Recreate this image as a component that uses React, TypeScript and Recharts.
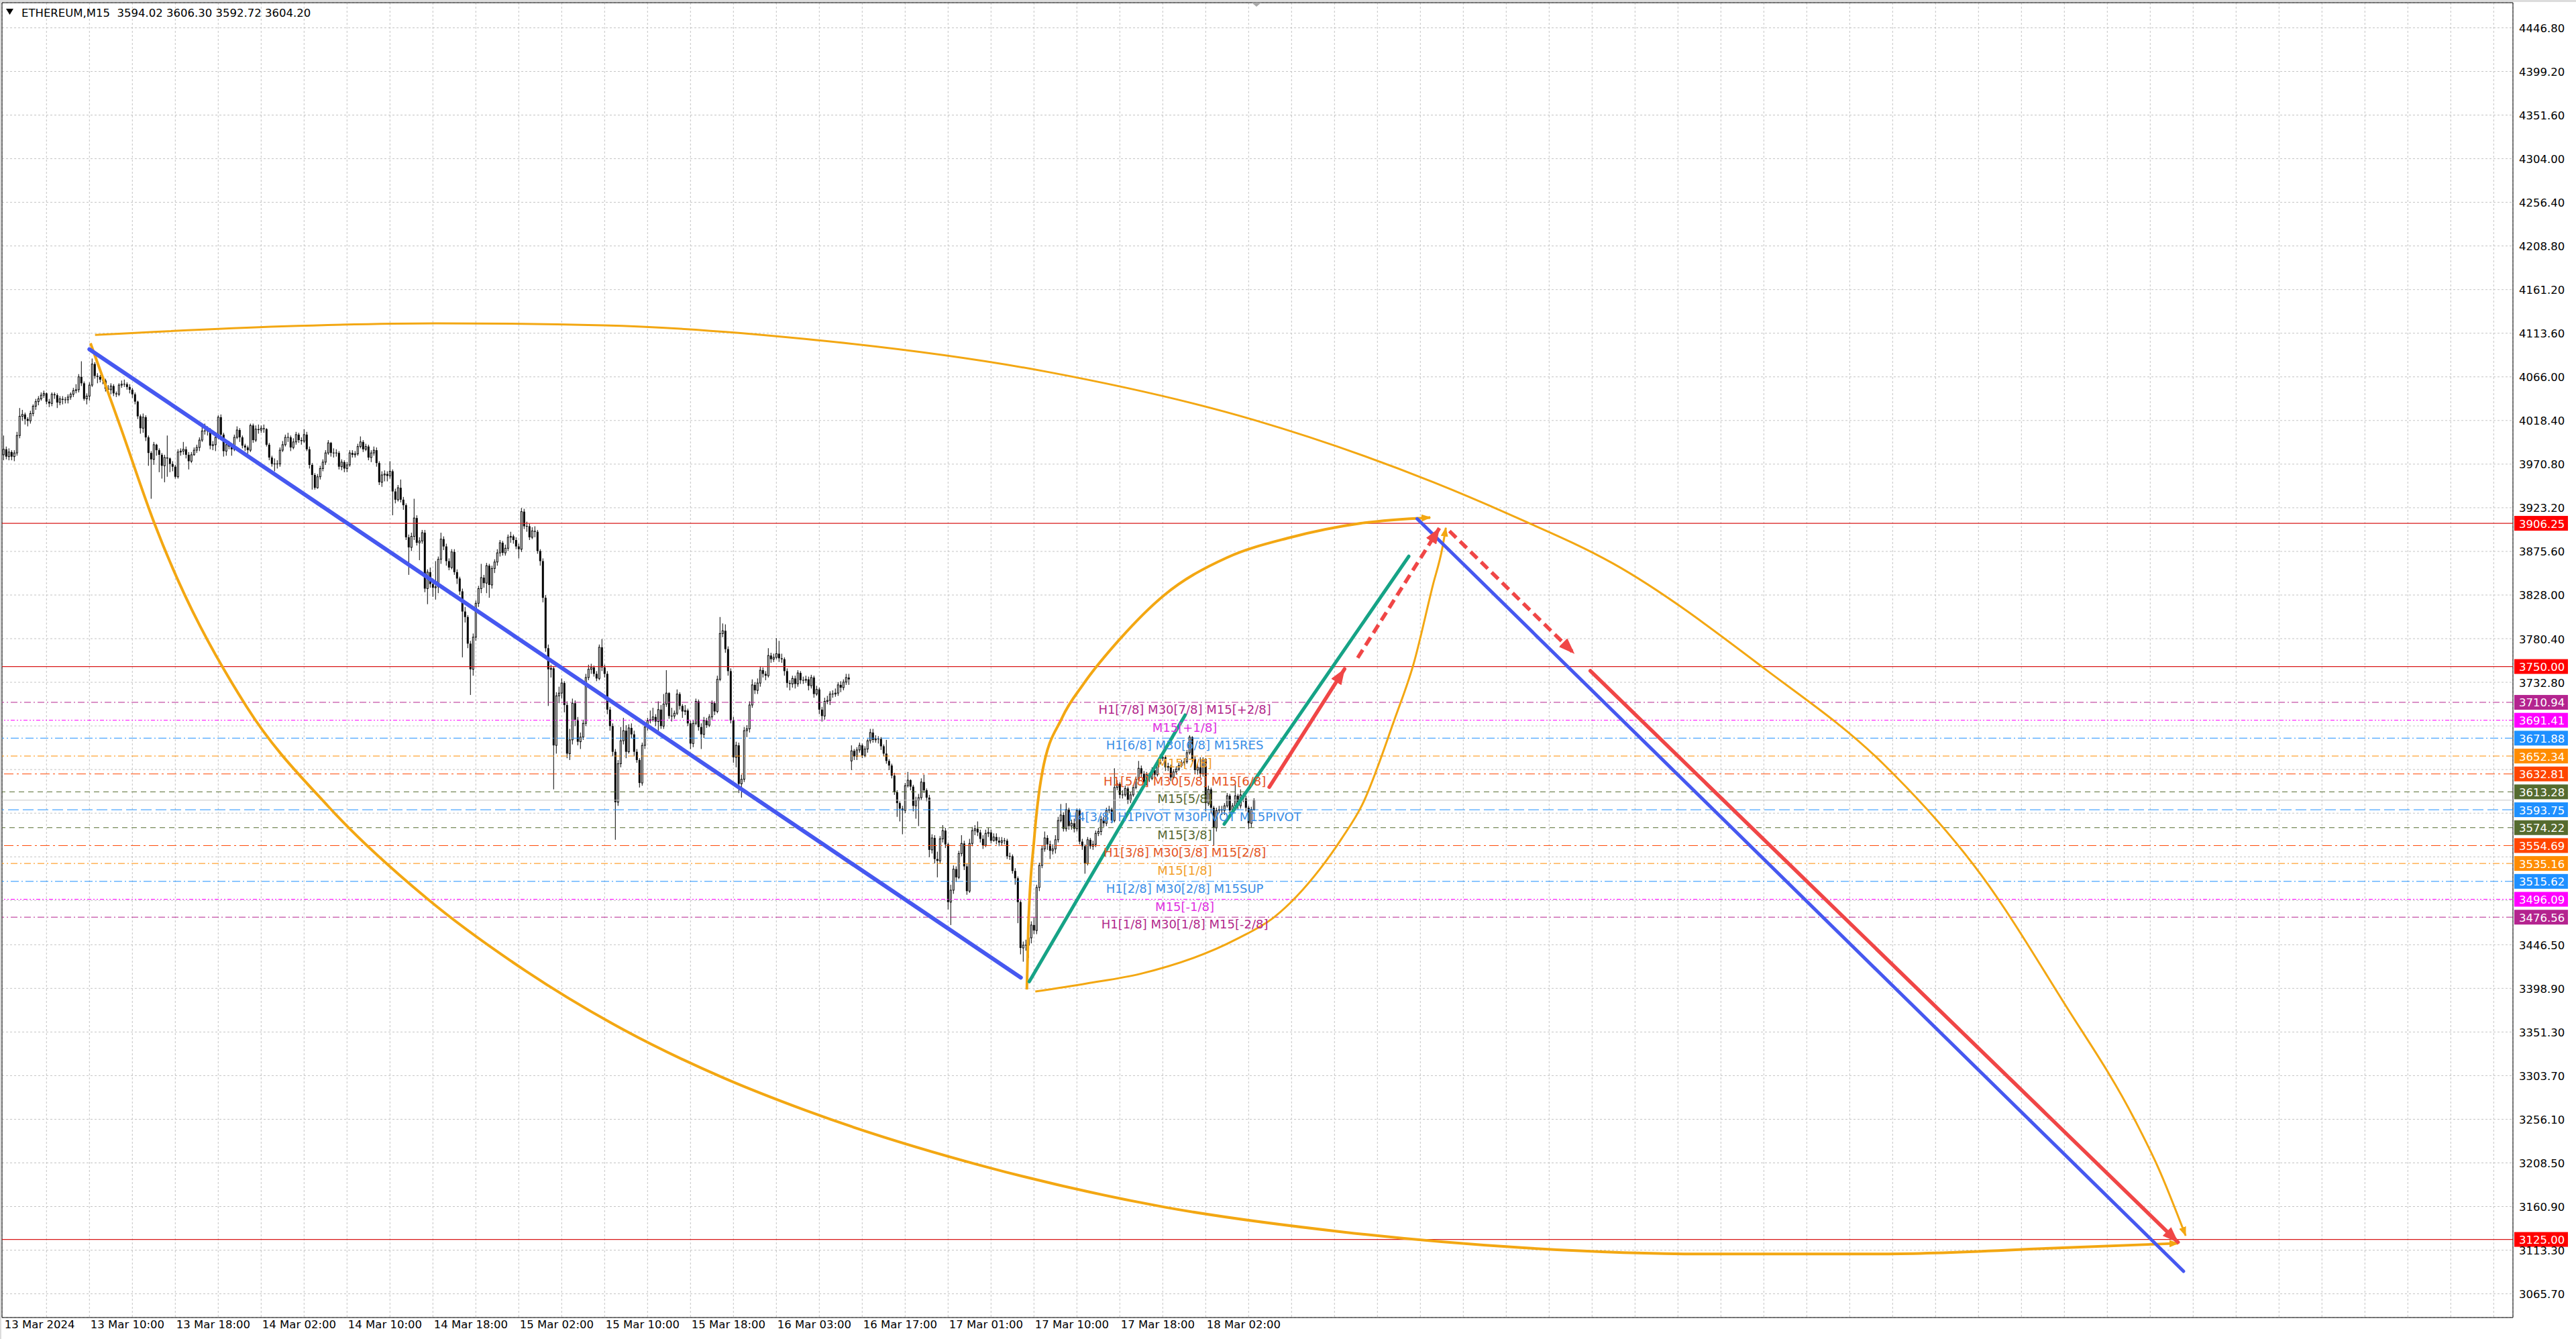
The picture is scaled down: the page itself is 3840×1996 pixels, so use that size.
import React from "react";
import {
  ComposedChart, Bar, Line, Scatter, XAxis, YAxis, CartesianGrid,
  ReferenceLine, ReferenceArea,
} from "recharts";

document.body.style.margin = "0";
document.body.style.overflow = "hidden";

const W = 3840;
const H = 1996;
const AXIS_FONT = '"DejaVu Sans", Verdana, sans-serif';

// x = M15 bar number counted from 13 Mar 02:00
const X_MIN = -0.575;
const X_MAX = 935.175;
const Y_MIN = 3039.8;
const Y_MAX = 4474.2;

const TIME_TICKS = [0, 32, 64, 96, 128, 160, 192, 224, 256, 288, 320, 352, 384, 416, 448];
const TIME_LABELS = [
  "13 Mar 2024", "13 Mar 10:00", "13 Mar 18:00", "14 Mar 02:00", "14 Mar 10:00",
  "14 Mar 18:00", "15 Mar 02:00", "15 Mar 10:00", "15 Mar 18:00", "16 Mar 03:00",
  "16 Mar 17:00", "17 Mar 01:00", "17 Mar 10:00", "17 Mar 18:00", "18 Mar 02:00",
];
const GRID_TICKS = Array.from({ length: 58 }, (_, k) => 16 * (k + 1));
const PRICE_TICKS = [
  4446.8, 4399.2, 4351.6, 4304.0, 4256.4, 4208.8, 4161.2, 4113.6, 4066.0, 4018.4,
  3970.8, 3923.2, 3875.6, 3828.0, 3780.4, 3732.8, 3685.2, 3637.6, 3590.0, 3542.4,
  3494.8, 3446.5, 3398.9, 3351.3, 3303.7, 3256.1, 3208.5, 3160.9, 3113.3, 3065.7,
];
// ticks whose labels sit under the price tags
const COVERED_TICKS = [3685.2, 3637.6, 3590.0, 3542.4, 3494.8];

const OPEN = [
  3981,3987,3979,3984,3979,3983,4002,4023,4025,4020, 4018,4026,4034,4039,4042,4046,4048,4039,4037,4047,
  4046,4038,4042,4041,4041,4044,4047,4051,4052,4066, 4059,4042,4045,4057,4080,4067,4066,4063,4062,4053,
  4052,4056,4048,4047,4057,4058,4058,4055,4052,4047, 4039,4023,4010,4022,4000,3983,3976,3992,3986,3981,
  3969,3978,3977,3971,3968,3957,3984,3985,3987,3981, 3974,3981,3986,3989,3997,4007,4007,4008,3991,3992,
  4000,4022,4003,3985,3992,3990,3987,4000,4008,4000, 3991,3989,3986,4013,3997,4009,4008,4010,4009,3992,
  3978,3971,3971,3971,3986,3992,4000,4000,3989,3995, 4003,3997,3996,4003,3987,3970,3959,3945,3957,3966,
  3973,3983,3994,3983,3983,3983,3968,3973,3966,3970, 3983,3981,3982,3990,3995,3987,3990,3978,3983,3986,
  3972,3951,3959,3960,3958,3963,3941,3932,3945,3932, 3926,3891,3880,3892,3912,3885,3887,3896,3835,3853,
  3840,3836,3837,3867,3889,3881,3865,3858,3875,3853, 3846,3832,3810,3804,3775,3747,3782,3819,3835,3847,
  3841,3860,3839,3857,3864,3874,3885,3874,3879,3891, 3892,3888,3881,3878,3919,3903,3903,3891,3898,3897,
  3876,3865,3825,3770,3747,3748,3664,3718,3721,3732, 3708,3655,3670,3710,3692,3668,3673,3688,3738,3747,
  3749,3742,3737,3771,3749,3742,3703,3685,3657,3602, 3644,3669,3680,3657,3683,3676,3657,3648,3623,3664,
  3684,3691,3692,3695,3690,3703,3685,3709,3721,3696, 3696,3699,3720,3707,3701,3702,3688,3666,3688,3712,
  3684,3676,3691,3686,3695,3710,3701,3736,3786,3789, 3769,3745,3691,3651,3664,3622,3627,3680,3682,3708,
  3730,3724,3732,3746,3742,3740,3762,3758,3760,3764, 3759,3758,3745,3732,3731,3737,3731,3743,3735,3735,
  3736,3729,3738,3720,3725,3703,3696,3712,3713,3720, 3720,3721,3730,3727,3733,3738,3647,3658,3652,3659,
  3664,3653,3660,3669,3678,3670,3671,3671,3663,3655, 3647,3642,3631,3613,3601,3595,3593,3620,3626,3619,
  3598,3604,3607,3624,3615,3607,3550,3563,3540,3538, 3562,3571,3556,3493,3506,3529,3520,3546,3557,3532,
  3505,3557,3571,3573,3569,3562,3555,3568,3569,3560, 3564,3560,3558,3560,3560,3543,3543,3527,3519,3493,
  3443,3446,3446,3454,3468,3462,3509,3533,3551,3563, 3556,3549,3551,3561,3582,3588,3573,3594,3576,3579,
  3573,3593,3559,3554,3535,3561,3554,3556,3568,3570, 3583,3579,3593,3594,3582,3618,3622,3610,3610,3617,
  3604,3610,3618,3627,3639,3633,3623,3632,3628,3637, 3632,3645,3650,3651,3640,3641,3629,3635,3638,3642,
  3645,3646,3656,3673,3649,3637,3640,3633,3649,3601, 3616,3596,3574,3593,3594,3593,3598,3609,3593,3598,
  3609,3598,3610,3606,3596,3579,3594.02,
];
const HIGH = [
  4002,3990,3988,3986,3986,4006,4032,4030,4027,4022, 4029,4036,4042,4045,4049,4051,4049,4042,4049,4049,
  4048,4045,4045,4044,4047,4049,4054,4058,4069,4083, 4061,4048,4060,4086,4082,4070,4068,4067,4064,4057,
  4059,4058,4050,4059,4062,4063,4060,4058,4054,4049, 4040,4025,4026,4024,4002,3985,3995,3993,3988,3983,
  3981,4002,3978,3974,3970,3987,3988,3995,3990,3984, 3984,3989,3992,4000,4011,4015,4012,4010,3996,4003,
  4024,4025,4005,3994,3996,3992,4003,4012,4010,4002, 3993,3991,4015,4015,4013,4014,4013,4014,4010,3994,
  3980,3977,3975,3989,3996,4003,4005,4002,3999,4006, 4005,4000,4009,4006,3990,3972,3961,3960,3969,3976,
  3986,3997,3995,3988,3987,3985,3976,3975,3973,3986, 3986,3985,3993,4001,3997,3993,3992,3986,3990,3989,
  3974,3963,3964,3963,3974,3965,3944,3948,3954,3935, 3928,3894,3896,3933,3915,3891,3899,3899,3856,3858,
  3846,3865,3870,3896,3892,3884,3868,3878,3878,3856, 3848,3835,3815,3806,3778,3786,3822,3838,3862,3850,
  3863,3862,3860,3867,3878,3888,3887,3883,3894,3897, 3894,3891,3884,3923,3922,3908,3906,3902,3903,3899,
  3878,3868,3828,3774,3752,3750,3722,3728,3737,3734, 3712,3682,3715,3713,3695,3678,3692,3742,3752,3753,
  3751,3745,3774,3780,3752,3745,3706,3688,3660,3648, 3684,3694,3686,3687,3688,3680,3660,3650,3667,3688,
  3694,3702,3705,3698,3712,3708,3720,3746,3722,3705, 3702,3725,3722,3709,3708,3704,3691,3692,3715,3714,
  3688,3695,3694,3698,3713,3712,3740,3804,3797,3796, 3772,3748,3695,3668,3667,3632,3684,3686,3712,3736,
  3733,3737,3750,3749,3745,3770,3765,3764,3781,3778, 3764,3760,3748,3735,3740,3740,3746,3745,3739,3740,
  3739,3741,3740,3729,3727,3706,3716,3718,3723,3724, 3726,3733,3734,3736,3742,3742,3664,3660,3662,3667,
  3666,3663,3671,3682,3682,3675,3674,3673,3665,3670, 3649,3644,3634,3615,3603,3598,3623,3635,3627,3621,
  3608,3611,3628,3632,3617,3610,3567,3566,3548,3565, 3577,3574,3558,3512,3533,3532,3549,3566,3560,3535,
  3562,3575,3577,3581,3572,3566,3572,3574,3572,3568, 3568,3564,3564,3563,3562,3547,3545,3530,3521,3495,
  3450,3452,3458,3472,3476,3512,3536,3555,3570,3566, 3560,3556,3566,3586,3600,3591,3601,3596,3583,3584,
  3595,3595,3562,3556,3564,3563,3560,3571,3574,3587, 3586,3596,3598,3596,3639,3626,3624,3615,3620,3619,
  3613,3621,3630,3647,3642,3636,3635,3634,3640,3639, 3648,3654,3655,3653,3645,3643,3638,3641,3645,3648,
  3650,3659,3675,3674,3652,3644,3651,3651,3650,3620, 3618,3598,3596,3598,3598,3601,3612,3611,3601,3622,
  3611,3616,3612,3609,3598,3597,3606.3,
];
const LOW = [
  3975,3976,3975,3975,3974,3980,3999,4018,4014,4012, 4015,4023,4030,4035,4040,4043,4036,4033,4034,4042,
  4032,4035,4036,4037,4037,4041,4044,4048,4049,4056, 4040,4036,4040,4055,4064,4059,4060,4058,4050,4048,
  4047,4045,4044,4045,4054,4055,4052,4048,4043,4036, 4020,4004,4005,3996,3969,3933,3970,3980,3962,3955,
  3951,3957,3962,3963,3955,3955,3980,3981,3977,3965, 3972,3980,3983,3985,3995,4003,4002,3987,3986,3985,
  3998,4000,3979,3980,3987,3980,3985,3998,3995,3988, 3985,3982,3984,3994,3995,4004,4005,4005,3990,3975,
  3968,3963,3966,3968,3984,3990,3995,3985,3987,3992, 3994,3992,3994,3985,3966,3943,3943,3944,3954,3963,
  3970,3981,3979,3978,3979,3965,3964,3962,3962,3968, 3978,3978,3980,3988,3984,3985,3975,3973,3980,3968,
  3948,3946,3952,3952,3955,3915,3928,3930,3929,3921, 3888,3850,3876,3888,3882,3866,3884,3831,3818,3836,
  3826,3823,3830,3862,3877,3860,3855,3856,3850,3840, 3828,3760,3798,3770,3719,3740,3778,3815,3830,3836,
  3830,3825,3835,3852,3860,3870,3871,3871,3876,3885, 3884,3878,3868,3875,3900,3897,3888,3889,3891,3873,
  3860,3820,3766,3707,3738,3616,3655,3710,3715,3700, 3650,3648,3665,3685,3664,3660,3670,3685,3735,3742,
  3739,3734,3735,3745,3738,3698,3680,3652,3561,3598, 3640,3665,3650,3655,3672,3652,3645,3618,3620,3660,
  3680,3688,3690,3685,3680,3682,3682,3706,3693,3690, 3693,3697,3703,3694,3697,3685,3660,3662,3686,3680,
  3660,3672,3683,3684,3692,3697,3699,3734,3782,3765, 3740,3688,3645,3640,3612,3607,3624,3673,3678,3705,
  3720,3720,3728,3738,3735,3738,3754,3755,3758,3755, 3754,3740,3727,3724,3727,3726,3728,3731,3731,3732,
  3724,3726,3716,3718,3698,3690,3692,3709,3708,3716, 3717,3718,3722,3724,3730,3730,3637,3648,3648,3656,
  3650,3651,3656,3666,3667,3667,3666,3659,3652,3644, 3637,3628,3610,3586,3581,3567,3590,3618,3615,3592,
  3584,3576,3604,3612,3603,3542,3546,3535,3520,3535, 3558,3552,3485,3468,3502,3515,3518,3543,3528,3501,
  3503,3554,3566,3565,3558,3551,3553,3564,3557,3559, 3556,3554,3555,3556,3540,3539,3524,3512,3470,3436,
  3428,3440,3432,3448,3458,3458,3505,3530,3548,3550, 3540,3545,3546,3558,3580,3570,3570,3572,3572,3569,
  3570,3556,3550,3524,3533,3551,3550,3553,3565,3566, 3575,3576,3590,3579,3580,3615,3606,3606,3608,3600,
  3601,3608,3616,3625,3629,3620,3620,3624,3626,3628, 3630,3643,3647,3636,3636,3625,3627,3632,3636,3640,
  3642,3644,3654,3646,3633,3632,3629,3630,3592,3598, 3590,3555,3570,3590,3588,3588,3596,3590,3590,3595,
  3594,3595,3602,3592,3573,3574,3592.72,
];
const CLOSE = [
  3987,3979,3984,3979,3983,4002,4023,4025,4020,4018, 4026,4034,4039,4042,4046,4048,4039,4037,4047,4046,
  4038,4042,4041,4041,4044,4047,4051,4052,4066,4059, 4042,4045,4057,4080,4067,4066,4063,4062,4053,4052,
  4056,4048,4047,4057,4058,4058,4055,4052,4047,4039, 4023,4010,4022,4000,3983,3976,3992,3986,3981,3969,
  3978,3977,3971,3968,3957,3984,3985,3987,3981,3974, 3981,3986,3989,3997,4007,4007,4008,3991,3992,4000,
  4022,4003,3985,3992,3990,3987,4000,4008,4000,3991, 3989,3986,4013,3997,4009,4008,4010,4009,3992,3978,
  3971,3971,3971,3986,3992,4000,4000,3989,3995,4003, 3997,3996,4003,3987,3970,3959,3945,3957,3966,3973,
  3983,3994,3983,3983,3983,3968,3973,3966,3970,3983, 3981,3982,3990,3995,3987,3990,3978,3983,3986,3972,
  3951,3959,3960,3958,3963,3941,3932,3945,3932,3926, 3891,3880,3892,3912,3885,3887,3896,3835,3853,3840,
  3836,3837,3867,3889,3881,3865,3858,3875,3853,3846, 3832,3810,3804,3775,3747,3782,3819,3835,3847,3841,
  3860,3839,3857,3864,3874,3885,3874,3879,3891,3892, 3888,3881,3878,3919,3903,3903,3891,3898,3897,3876,
  3865,3825,3770,3747,3748,3664,3718,3721,3732,3708, 3655,3670,3710,3692,3668,3673,3688,3738,3747,3749,
  3742,3737,3771,3749,3742,3703,3685,3657,3602,3644, 3669,3680,3657,3683,3676,3657,3648,3623,3664,3684,
  3691,3692,3695,3690,3703,3685,3709,3721,3696,3696, 3699,3720,3707,3701,3702,3688,3666,3688,3712,3684,
  3676,3691,3686,3695,3710,3701,3736,3786,3789,3769, 3745,3691,3651,3664,3622,3627,3680,3682,3708,3730,
  3724,3732,3746,3742,3740,3762,3758,3760,3764,3759, 3758,3745,3732,3731,3737,3731,3743,3735,3735,3736,
  3729,3738,3720,3725,3703,3696,3712,3713,3720,3720, 3721,3730,3727,3733,3738,3736,3658,3652,3659,3664,
  3653,3660,3669,3678,3670,3671,3671,3663,3655,3647, 3642,3631,3613,3601,3595,3593,3620,3626,3619,3598,
  3604,3607,3624,3615,3607,3550,3563,3540,3538,3562, 3571,3556,3493,3506,3529,3520,3546,3557,3532,3505,
  3557,3571,3573,3569,3562,3555,3568,3569,3560,3564, 3560,3558,3560,3560,3543,3543,3527,3519,3493,3443,
  3446,3446,3454,3468,3462,3509,3533,3551,3563,3556, 3549,3551,3561,3582,3588,3573,3594,3576,3579,3573,
  3593,3559,3554,3535,3561,3554,3556,3568,3570,3583, 3579,3593,3594,3582,3618,3622,3610,3610,3617,3604,
  3610,3618,3627,3639,3633,3623,3632,3628,3637,3632, 3645,3650,3651,3640,3641,3629,3635,3638,3642,3645,
  3646,3656,3673,3649,3637,3640,3633,3649,3601,3616, 3596,3574,3593,3594,3593,3598,3609,3593,3598,3609,
  3598,3610,3606,3596,3579,3594,3604.2,
];

// Murrey math levels
const LEVEL_PRICES = [3710.94, 3691.41, 3671.88, 3652.34, 3632.81, 3613.28, 3593.75, 3574.22, 3554.69, 3535.16, 3515.62, 3496.09, 3476.56];
const LEVEL_TEXTS = [
  "H1[7/8] M30[7/8] M15[+2/8]", "M15[+1/8]", "H1[6/8] M30[6/8] M15RES", "M15[7/8]",
  "H1[5/8] M30[5/8] M15[6/8]", "M15[5/8]", "H4[3/8] H1PIVOT M30PIVOT M15PIVOT", "M15[3/8]",
  "H1[3/8] M30[3/8] M15[2/8]", "M15[1/8]", "H1[2/8] M30[2/8] M15SUP", "M15[-1/8]", "H1[1/8] M30[1/8] M15[-2/8]",
];
const LEVEL_COLORS = ["#B4248F", "#FF00FF", "#1E90FF", "#FF8C00", "#FF4500", "#556B2F", "#1E90FF", "#556B2F", "#FF4500", "#FF8C00", "#1E90FF", "#FF00FF", "#B4248F"];
const LEVEL_TEXT_COLORS = ["#B2288C", "#E030E0", "#3A8EE6", "#F2A028", "#E5541E", "#56682F", "#3A8EE6", "#56682F", "#E5541E", "#F2A028", "#3A8EE6", "#E030E0", "#B2288C"];
const LEVEL_DASHES = ["10 4 2 4", "6 3 2 3 2 3", "12 4 2 4", "10 4 2 4", "14 5 3 5", "8 6", "16 6", "8 6", "14 5 3 5", "10 4 2 4", "12 4 2 4", "6 3 2 3 2 3", "10 4 2 4"];
const LABEL_BAR = 440.2;

const RED_LEVELS = [3906.25, 3750.0, 3125.0];
const BID = 3604.2;

const TAG_PRICES = [3906.25, 3750.0, ...LEVEL_PRICES, 3125.0];
const TAG_COLORS = ["#FF0000", "#FF0000", ...LEVEL_COLORS, "#FF0000"];

// drawn objects, [bar, price]
const BLUE_DOWN_1 = [[32.0, 4096.1], [379.1, 3410.65]];
const BLUE_DOWN_2 = [[526.8, 3911.2], [812.4, 3090.3]];
const GREEN_UP_1 = [[382.25, 3406.25], [440.35, 3697.0]];
const GREEN_UP_2 = [[454.9, 3578.2], [523.7, 3870.25]];
const RED_UP = [[471.7, 3618.5], [499.75, 3747.3]];
const RED_UP_DASH = [[504.65, 3759.45], [535.1, 3901.0]];
const RED_DOWN_DASH = [[538.85, 3897.8], [585.3, 3764.35]];
const RED_DOWN = [[591.35, 3745.3], [810.35, 3122.0]];
const ARC_TOP = [
  [34.1, 4111.8], [103.7, 4121.1], [161.2, 4124.4], [223.7, 4122.2], [298.7, 4107.4], [389.1, 4071.4],
  [466.1, 4018.9], [533.05, 3950.8], [563.2, 3913.3], [600.0, 3862.1], [656.9, 3746.3], [700.4, 3644.1],
  [737.3, 3521.4], [767.4, 3385.2], [794.2, 3255.7], [802.9, 3203.8], [813.2, 3129.1],
];
const ARC_LOW = [
  [32.4, 4102.7], [43.7, 4010.3], [56.2, 3906.3], [90.5, 3706.5], [121.1, 3597.1], [157.85, 3496.8],
  [194.6, 3417.9], [231.3, 3353.4], [268.1, 3301.5], [298.7, 3266.0], [365.65, 3204.6], [432.6, 3160.3],
  [499.6, 3133.0], [566.5, 3115.9], [633.5, 3109.2], [700.4, 3109.2], [767.4, 3115.9], [810.4, 3120.8],
];
const ARC_INNER_UP = [
  [381.35, 3397.7], [381.9, 3465.0], [384.1, 3562.4], [387.0, 3633.1], [394.5, 3694.1], [402.4, 3730.7],
  [416.2, 3780.5], [432.6, 3828.0], [456.05, 3869.0], [479.0, 3890.4], [505.8, 3906.3], [531.7, 3912.6],
];
const ARC_INNER_DOWN = [
  [384.5, 3395.4], [403.7, 3404.3], [423.7, 3414.8], [459.5, 3452.6], [473.7, 3477.0], [490.35, 3528.2],
  [498.7, 3562.4], [506.3, 3599.0], [518.3, 3691.7], [525.45, 3752.6], [532.6, 3838.0], [536.2, 3879.5],
  [537.5, 3901.4],
];

const pts = (arr: number[][]) => arr.map(([x, y]) => ({ x, y }));

const candles = CLOSE.map((c, i) => ({
  x: i, o: OPEN[i], h: HIGH[i], l: LOW[i], c, range: [LOW[i], HIGH[i]],
}));
const levelLabels = LEVEL_PRICES.map((p, k) => ({ x: LABEL_BAR, y: p, text: LEVEL_TEXTS[k], color: LEVEL_TEXT_COLORS[k] }));
const tags = TAG_PRICES.map((p, k) => ({ x: X_MAX, y: p, color: TAG_COLORS[k] }));

const BLUE = "#4658F0";
const GREEN = "#16A386";
const RED = "#F04646";
const GOLD = "#F3A712";

function Candle(props: any) {
  const { x, y, width, height, payload } = props;
  if (x == null || y == null || !payload) return null;
  const top = Math.min(y, y + height);
  const bot = Math.max(y, y + height);
  const { o, h, l, c } = payload;
  const span = h - l || 1;
  const py = (p: number) => top + ((h - p) / span) * (bot - top);
  const cx = x + width / 2;
  const yA = py(Math.max(o, c));
  const yB = py(Math.min(o, c));
  return (
    <g>
      <line x1={cx} x2={cx} y1={top} y2={bot} stroke="#000" strokeWidth={1} />
      {c >= o ? (
        <rect x={cx - 1} y={yA} width={2} height={Math.max(yB - yA, 0.01)} fill="#fff" stroke="#000" strokeWidth={1} />
      ) : (
        <rect x={cx - 1.5} y={yA} width={3} height={Math.max(yB - yA, 1)} fill="#000" />
      )}
    </g>
  );
}

function LevelText(props: any) {
  const { cx, cy, payload } = props;
  if (cx == null) return null;
  return (
    <text x={cx} y={cy + 17} textAnchor="middle" fill={payload.color} fontSize={18} fontFamily={AXIS_FONT}>
      {payload.text}
    </text>
  );
}

function PriceTag(props: any) {
  const { cx, cy, payload } = props;
  if (cx == null) return null;
  return (
    <g>
      <rect x={cx + 2} y={cy - 11} width={80} height={22} fill={payload.color} />
      <text x={cx + 9} y={cy + 1} dominantBaseline="central" fill="#fff" fontSize={16.5} fontFamily={AXIS_FONT}>
        {payload.y.toFixed(2)}
      </text>
    </g>
  );
}

function PriceTick(props: any) {
  const { x, y, payload } = props;
  if (COVERED_TICKS.includes(Number(payload.value))) return null;
  return (
    <text x={x + 9} y={y + 1} dominantBaseline="central" fill="#000" fontSize={16.5} fontFamily={AXIS_FONT}>
      {Number(payload.value).toFixed(2)}
    </text>
  );
}

function TimeTick(props: any) {
  const { x, y, payload } = props;
  const k = TIME_TICKS.indexOf(payload.value);
  if (k < 0) return null;
  return (
    <text x={x + 1.5} y={y + 16} fill="#000" fontSize={16.5} fontFamily={AXIS_FONT}>
      {TIME_LABELS[k]}
    </text>
  );
}

export default function App() {
  return (
    <div style={{ position: "relative", width: W, height: H, background: "#fff", overflow: "hidden" }}>
      <div style={{ position: "absolute", left: 0, top: 0, width: W, height: 3, background: "#DCDCDC" }} />
      <div style={{ position: "absolute", left: 0, top: 0, width: 2, height: H, background: "#DCDCDC" }} />
      <ComposedChart
        width={W}
        height={H}
        data={candles}
        margin={{ top: 4, right: 0, bottom: 0, left: 3 }}
      >
        <defs>
          <marker id="arRed" viewBox="0 0 24 18" refX="23" refY="9" markerWidth="24" markerHeight="18"
            markerUnits="userSpaceOnUse" orient="auto">
            <path d="M0,0 L24,9 L0,18 Z" fill={RED} />
          </marker>
          <marker id="arGold" viewBox="0 0 14 11" refX="13" refY="5.5" markerWidth="14" markerHeight="11"
            markerUnits="userSpaceOnUse" orient="auto">
            <path d="M0,0 L14,5.5 L0,11 Z" fill={GOLD} />
          </marker>
        </defs>
        <XAxis xAxisId="grid" type="number" dataKey="x" domain={[X_MIN, X_MAX]} ticks={GRID_TICKS} hide />
        <XAxis type="number" dataKey="x" domain={[X_MIN, X_MAX]} ticks={TIME_TICKS} interval={0}
          axisLine={false} tickLine={false} tickSize={0} tickMargin={0} height={32} tick={<TimeTick />} />
        <YAxis orientation="right" type="number" dataKey="y" domain={[Y_MIN, Y_MAX]} ticks={PRICE_TICKS}
          interval={0} axisLine={false} tickLine={false} tickSize={0} tickMargin={0} width={94} tick={<PriceTick />} />
        <CartesianGrid xAxisId="grid" stroke="#C4C4C4" strokeDasharray="3 3" />

        {LEVEL_PRICES.map((p, k) => (
          <ReferenceLine key={"lv" + k} y={p} stroke={LEVEL_COLORS[k]} strokeWidth={1} strokeDasharray={LEVEL_DASHES[k]} />
        ))}
        <ReferenceLine y={BID} stroke="#C6C6C6" strokeWidth={1} />
        {RED_LEVELS.map((p) => (
          <ReferenceLine key={"rd" + p} y={p} stroke="#D81818" strokeWidth={1.2} />
        ))}

        <Bar dataKey="range" barSize={3} shape={<Candle />} isAnimationActive={false} />

        <Scatter data={levelLabels} dataKey="y" shape={<LevelText />} isAnimationActive={false} />

        <Line data={pts(ARC_TOP)} dataKey="y" type="monotone" stroke={GOLD} strokeWidth={3} dot={false}
          markerEnd="url(#arGold)" isAnimationActive={false} />
        <Line data={pts(ARC_LOW)} dataKey="y" type="monotone" stroke={GOLD} strokeWidth={4} dot={false}
          markerEnd="url(#arGold)" isAnimationActive={false} />
        <Line data={pts(ARC_INNER_UP)} dataKey="y" type="monotone" stroke={GOLD} strokeWidth={4} dot={false}
          markerEnd="url(#arGold)" isAnimationActive={false} />
        <Line data={pts(ARC_INNER_DOWN)} dataKey="y" type="monotone" stroke={GOLD} strokeWidth={3} dot={false}
          markerEnd="url(#arGold)" isAnimationActive={false} />

        <Line data={pts(BLUE_DOWN_1)} dataKey="y" type="linear" stroke={BLUE} strokeWidth={6} strokeLinecap="round"
          dot={false} isAnimationActive={false} />
        <Line data={pts(BLUE_DOWN_2)} dataKey="y" type="linear" stroke={BLUE} strokeWidth={5} strokeLinecap="round"
          dot={false} isAnimationActive={false} />
        <Line data={pts(GREEN_UP_1)} dataKey="y" type="linear" stroke={GREEN} strokeWidth={5} strokeLinecap="round"
          dot={false} isAnimationActive={false} />
        <Line data={pts(GREEN_UP_2)} dataKey="y" type="linear" stroke={GREEN} strokeWidth={5} strokeLinecap="round"
          dot={false} isAnimationActive={false} />
        <Line data={pts(RED_UP)} dataKey="y" type="linear" stroke={RED} strokeWidth={5.5} strokeLinecap="round"
          dot={false} markerEnd="url(#arRed)" isAnimationActive={false} />
        <Line data={pts(RED_UP_DASH)} dataKey="y" type="linear" stroke={RED} strokeWidth={5.5} strokeDasharray="14 8"
          dot={false} markerEnd="url(#arRed)" isAnimationActive={false} />
        <Line data={pts(RED_DOWN_DASH)} dataKey="y" type="linear" stroke={RED} strokeWidth={5.5} strokeDasharray="14 8"
          dot={false} markerEnd="url(#arRed)" isAnimationActive={false} />
        <Line data={pts(RED_DOWN)} dataKey="y" type="linear" stroke={RED} strokeWidth={5.5} strokeLinecap="round"
          dot={false} markerEnd="url(#arRed)" isAnimationActive={false} />

        <ReferenceArea x1={X_MIN} x2={X_MAX} y1={Y_MIN} y2={Y_MAX} fill="none" stroke="#000" strokeWidth={1} />
        <Scatter data={tags} dataKey="y" shape={<PriceTag />} isAnimationActive={false} />
      </ComposedChart>
      <svg width={W} height={40} style={{ position: "absolute", left: 0, top: 0, pointerEvents: "none" }}>
        <polygon points="9,13 20,13 14.5,22" fill="#000" />
        <polygon points="1866,4 1880,4 1873,10" fill="#A8A8A8" />
        <text x={32} y={25} fontSize={16.5} fontFamily={AXIS_FONT} fill="#000">
          ETHEREUM,M15{"\u00a0\u00a0"}3594.02 3606.30 3592.72 3604.20
        </text>
      </svg>
    </div>
  );
}
